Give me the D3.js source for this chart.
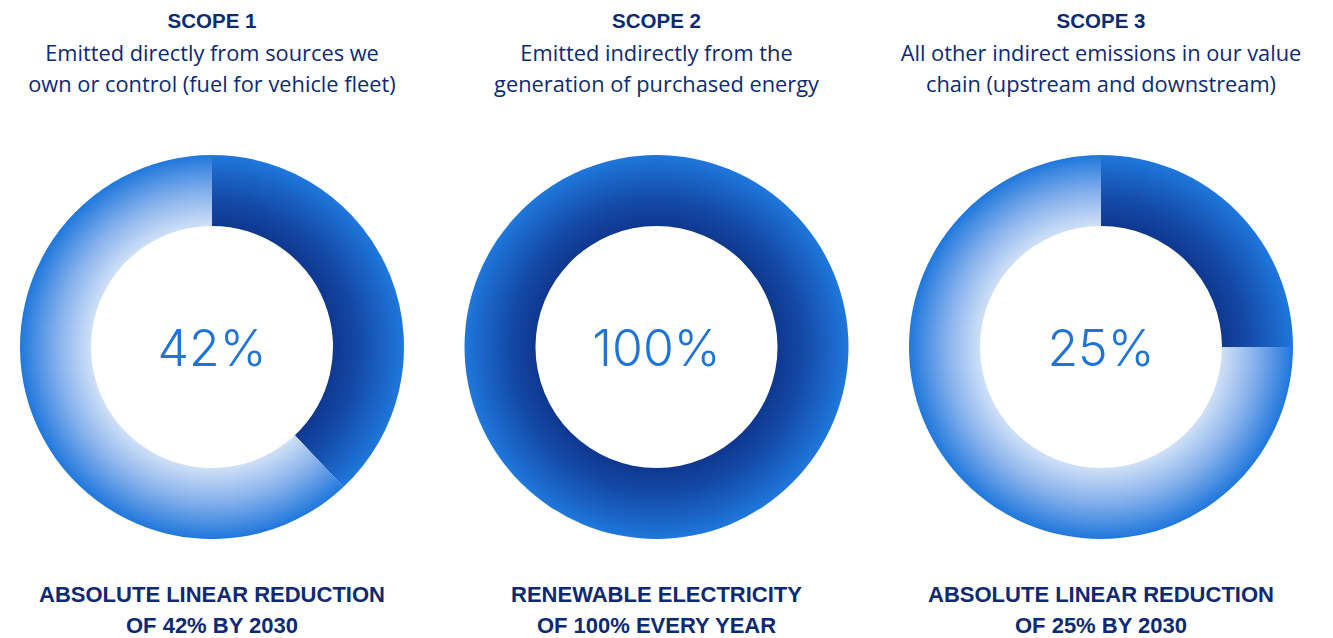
<!DOCTYPE html>
<html>
<head>
<meta charset="utf-8">
<script src="https://cdn.jsdelivr.net/npm/d3@7"></script>
<style>
  html, body { margin: 0; padding: 0; background: #ffffff; }
  svg { display: block; }
</style>
</head>
<body>
<svg id="chart" width="1333" height="638"></svg>
<script>
// ---- data ----
const scopes = ["SCOPE 1", "SCOPE 2", "SCOPE 3"];
const descriptions = [
  ["Emitted directly from sources we", "own or control (fuel for vehicle fleet)"],
  ["Emitted indirectly from the", "generation of purchased energy"],
  ["All other indirect emissions in our value", "chain (upstream and downstream)"]
];
// labelled target values
const targetPercent = [42, 100, 25];
// share of the ring that is drawn dark
const arcShare = [38, 100, 25];
const footnotes = [
  ["ABSOLUTE LINEAR REDUCTION", "OF 42% BY 2030"],
  ["RENEWABLE ELECTRICITY", "OF 100% EVERY YEAR"],
  ["ABSOLUTE LINEAR REDUCTION", "OF 25% BY 2030"]
];

// ---- layout / style ----
const navy = "#0d2a73";
const accent = "#1e74d8";
const outerR = 192, innerR = 121;
const cy = 347;

const svg = d3.select("#chart");
const x = d3.scalePoint().domain(scopes).range([212, 1101]);

const defs = svg.append("defs");
function radial(id, stops) {
  const g = defs.append("radialGradient")
    .attr("id", id)
    .attr("gradientUnits", "userSpaceOnUse")
    .attr("cx", 0).attr("cy", 0).attr("r", outerR);
  stops.forEach(s => g.append("stop").attr("offset", s[0]).attr("stop-color", s[1]));
}
const f = innerR / outerR;
radial("gradFill", [[0, "#0f3890"], [f, "#0f3890"], [f + (1 - f) * 0.35, "#1449a6"], [1, "#1f77dc"]]);
radial("gradRest", [[0, "#d3e3f8"], [f, "#cfe0f7"], [f + (1 - f) * 0.45, "#8ab3ec"], [1, "#1f77dc"]]);

const pie = d3.pie().sort(null).value(d => d.v);
const arc = d3.arc().innerRadius(innerR).outerRadius(outerR);

scopes.forEach((s, i) => {
  const g = svg.append("g").attr("transform", `translate(${x(s)},0)`);

  g.append("text")
    .attr("x", 0).attr("y", 28)
    .attr("text-anchor", "middle")
    .attr("font-family", "'Liberation Sans', Arial, sans-serif")
    .attr("font-weight", 700)
    .attr("font-size", 20.5)
    .attr("fill", navy)
    .text(s);

  descriptions[i].forEach((line, j) => {
    g.append("text")
      .attr("x", 0).attr("y", 61 + j * 31)
      .attr("text-anchor", "middle")
      .attr("font-family", "'Open Sans', sans-serif")
      .attr("font-size", 21.8)
      .attr("fill", navy)
      .text(line);
  });

  const parts = [{k: "fill", v: arcShare[i]}, {k: "rest", v: 100 - arcShare[i]}];
  const dg = g.append("g").attr("transform", `translate(0,${cy})`);
  dg.selectAll("path")
    .data(pie(parts).filter(d => d.data.v > 0))
    .join("path")
    .attr("d", arc)
    .attr("fill", d => d.data.k === "fill" ? "url(#gradFill)" : "url(#gradRest)");

  dg.append("text")
    .attr("x", 0).attr("y", 19)
    .attr("text-anchor", "middle")
    .attr("font-family", "Inter, 'DejaVu Sans', sans-serif")
    .attr("font-weight", 300)
    .attr("font-size", 50)
    .attr("fill", accent)
    .text(targetPercent[i] + "%");

  footnotes[i].forEach((line, j) => {
    g.append("text")
      .attr("x", 0).attr("y", 602 + j * 31)
      .attr("text-anchor", "middle")
      .attr("font-family", "'Liberation Sans', Arial, sans-serif")
      .attr("font-weight", 700)
      .attr("font-size", 22)
      .attr("fill", navy)
      .text(line);
  });
});
</script>
</body>
</html>
